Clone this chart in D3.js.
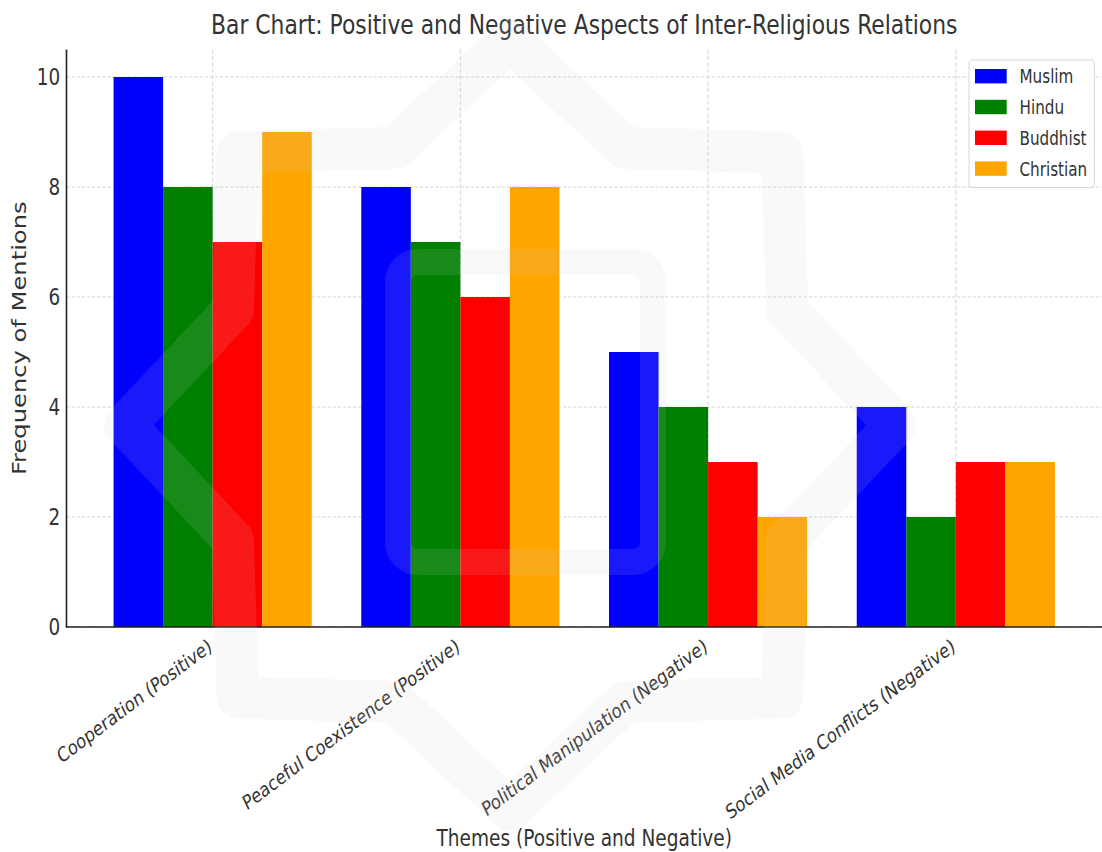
<!DOCTYPE html>
<html>
<head>
<meta charset="utf-8">
<script src="https://cdn.jsdelivr.net/npm/d3@7"></script>
<style>
  html, body { margin: 0; padding: 0; background: #fff; }
  svg { display: block; }
  text { font-family: "DejaVu Sans", sans-serif; fill: #333; }
</style>
</head>
<body>
<div id="chart"></div>
<script>
// Themes on the x axis
const categories = [
  "Cooperation (Positive)",
  "Peaceful Coexistence (Positive)",
  "Political Manipulation (Negative)",
  "Social Media Conflicts (Negative)"
];
// Religious groups (series)
const groups = ["Muslim", "Hindu", "Buddhist", "Christian"];
const muslim    = [10, 8, 5, 4];
const hindu     = [8, 7, 4, 2];
const buddhist  = [7, 6, 3, 3];
const christian = [9, 8, 2, 3];
const yTicks = [0, 2, 4, 6, 8, 10];
const colors = ["#0000ff", "#008000", "#ff0000", "#ffa500"];

const seriesValues = [muslim, hindu, buddhist, christian];

// The drawing is laid out in a wider coordinate space and compressed horizontally.
const W = 1102, H = 852;
const squeeze = 0.8;
const VW = W / squeeze;

const svg = d3.select("#chart").append("svg")
  .attr("width", W).attr("height", H)
  .attr("viewBox", `0 0 ${VW} ${H}`)
  .attr("preserveAspectRatio", "none");

const plotLeft = 83.1, plotRight = VW, plotTop = 49.5, plotBottom = 627;
const barWidth = 0.2;

const x = d3.scaleLinear().domain([-0.59, 3.59]).range([plotLeft, plotRight]);
const y = d3.scaleLinear().domain([0, 10.5]).range([plotBottom, plotTop]);

// Grid
const grid = svg.append("g").attr("class", "grid")
  .attr("stroke", "#cfcfcf").attr("stroke-width", 1).attr("stroke-dasharray", "4,2.4");
grid.selectAll("line.h").data(yTicks).join("line").attr("class", "h")
  .attr("x1", plotLeft).attr("x2", plotRight)
  .attr("y1", d => y(d)).attr("y2", d => y(d));
grid.selectAll("line.v").data(categories.map((c, i) => i)).join("line").attr("class", "v")
  .attr("x1", d => x(d)).attr("x2", d => x(d))
  .attr("y1", plotTop).attr("y2", plotBottom);

// Bars
const barData = [];
seriesValues.forEach((vals, j) => {
  vals.forEach((v, i) => barData.push({ i, j, v }));
});
svg.append("g").selectAll("rect").data(barData).join("rect")
  .attr("x", d => x(d.i + (d.j - 1.5) * barWidth - barWidth / 2))
  .attr("width", d => x(barWidth) - x(0))
  .attr("y", d => y(d.v))
  .attr("height", d => y(0) - y(d.v))
  .attr("fill", d => colors[d.j]);

// Y axis tick labels
const yAxis = d3.axisLeft(y).tickValues(yTicks).tickSize(0).tickPadding(8).tickFormat(d3.format("d"));
const yg = svg.append("g").attr("transform", `translate(${plotLeft},0)`).call(yAxis);
yg.select(".domain").remove();
yg.selectAll("text").attr("font-size", 23).style("fill", "#333")
  .attr("font-family", "DejaVu Sans, sans-serif");

// Left and bottom spines
svg.append("line").attr("x1", plotLeft).attr("x2", plotLeft)
  .attr("y1", plotTop).attr("y2", plotBottom)
  .attr("stroke", "#222").attr("stroke-width", 2);
svg.append("line").attr("x1", plotLeft - 1).attr("x2", plotRight)
  .attr("y1", plotBottom).attr("y2", plotBottom)
  .attr("stroke", "#222").attr("stroke-width", 1.6);

// X tick labels, rotated
const xAxis = d3.axisBottom(x).tickValues(categories.map((c, i) => i))
  .tickSize(0).tickFormat((d) => categories[d]);
const xg = svg.append("g").attr("transform", `translate(0,${plotBottom})`).call(xAxis);
xg.select(".domain").remove();
xg.selectAll("text")
  .attr("font-size", 20)
  .attr("font-family", "DejaVu Sans, sans-serif")
  .style("fill", "#333")
  .attr("text-anchor", "end")
  .attr("dy", null)
  .attr("y", 0)
  .attr("transform", "translate(0,23) rotate(-31)");

// Title
svg.append("text").attr("x", (plotLeft + plotRight) / 2).attr("y", 34.5)
  .attr("text-anchor", "middle").attr("font-size", 27.3)
  .text("Bar Chart: Positive and Negative Aspects of Inter-Religious Relations");

// Axis labels
svg.append("text").attr("x", (plotLeft + plotRight) / 2).attr("y", 846)
  .attr("text-anchor", "middle").attr("font-size", 23.2)
  .text("Themes (Positive and Negative)");
svg.append("text")
  .attr("transform", `translate(31.9,${(plotTop + plotBottom) / 2}) rotate(-90)`)
  .attr("text-anchor", "middle").attr("font-size", 24.2)
  .text("Frequency of Mentions");

// Legend
const lg = svg.append("g");
lg.append("rect").attr("x", 969 / squeeze).attr("y", 60)
  .attr("width", 125.5 / squeeze).attr("height", 127.5).attr("rx", 4)
  .attr("fill", "#fff").attr("fill-opacity", 0.85)
  .attr("stroke", "#d6d6d6").attr("stroke-width", 1.2);
const items = lg.selectAll("g.item").data(groups).join("g").attr("class", "item")
  .attr("transform", (d, j) => `translate(0,${76.2 + j * 30.8})`);
items.append("rect").attr("x", 975 / squeeze).attr("y", -7.2)
  .attr("width", 31.7 / squeeze).attr("height", 14.4)
  .attr("fill", (d, j) => colors[j]);
items.append("text").attr("x", 1019.5 / squeeze).attr("y", 7)
  .attr("font-size", 19).text(d => d);

// Faint emblem laid over the whole figure (drawn in screen pixels)
const mark = svg.append("g")
  .attr("transform", `scale(${1 / squeeze},1)`)
  .attr("opacity", 0.12)
  .attr("fill", "none").attr("stroke", "#cfcfcf")
  .attr("stroke-linejoin", "round").attr("stroke-linecap", "round");
const cx = 510, cy = 425;
const star = d3.range(16).map(k => {
  const r = k % 2 === 0 ? 385 : 300;
  const a = -Math.PI / 2 + k * Math.PI / 8;
  return [cx + r * Math.cos(a), cy + r * Math.sin(a)];
});
mark.append("path")
  .attr("d", d3.line().curve(d3.curveLinearClosed)(star))
  .attr("stroke-width", 42);
mark.append("rect").attr("x", 398).attr("y", 262).attr("width", 255).attr("height", 300)
  .attr("rx", 20).attr("stroke-width", 26);
</script>
</body>
</html>
